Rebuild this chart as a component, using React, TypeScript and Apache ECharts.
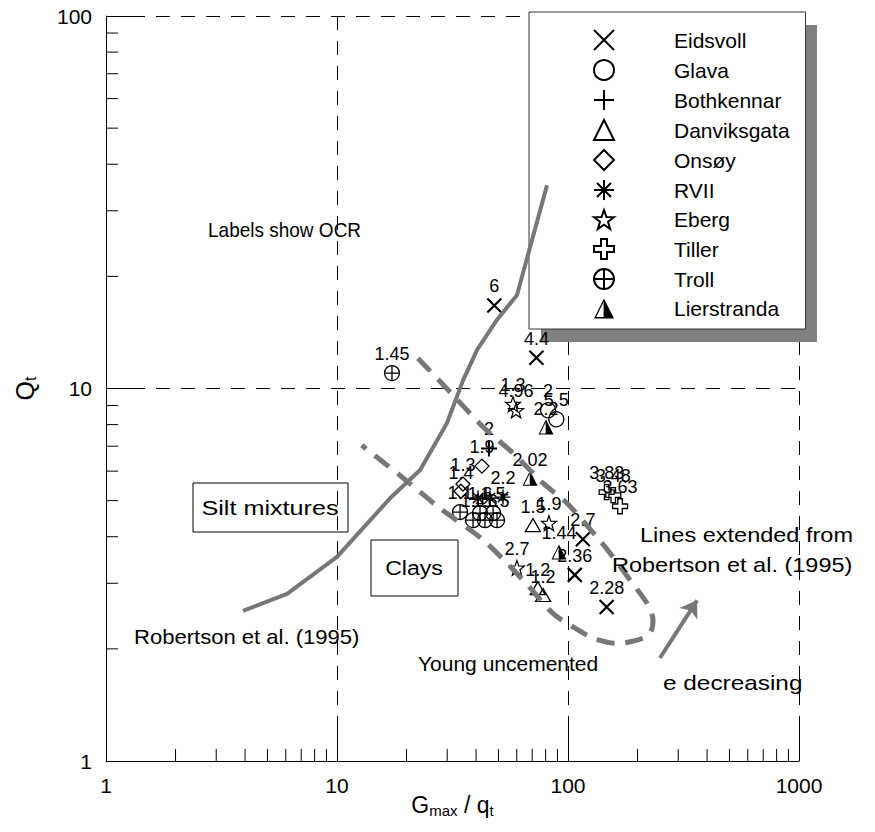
import React, { useEffect, useRef } from "react";
import * as echarts from "echarts";

// ---- Data (G_max/q_t, Q_t, OCR label) ----
const eidsvoll: [number, number, string][] = [
  [48, 16.7, "6"], [73, 12.1, "4.4"], [116, 3.94, "2.7"], [107, 3.16, "2.36"], [147, 2.59, "2.28"],
];
const glava: [number, number, string][] = [[82, 8.74, "2"], [89, 8.27, "5.5"]];
const bothkennar: [number, number, string][] = [[45.5, 6.9, "2"]];
const danviksgata: [number, number, string][] = [[70.5, 4.3, "1.5"], [74, 2.91, "1.2"], [78, 2.79, "1.2"]];
const onsoy: [number, number, string][] = [[42.4, 6.19, "1.9"], [35.1, 5.54, "1.3"], [34.4, 5.3, "1.4"]];
const rvii: [number, number, string][] = [[40.8, 5.08, ""], [45.9, 5.08, ""], [52.3, 5.11, "2.2"]];
const eberg: [number, number, string][] = [[57.8, 9.08, "1.3"], [59.6, 8.74, "4.96"], [82.7, 4.35, "1.9"], [60.1, 3.3, "2.7"]];
const tiller: [number, number, string][] = [[147, 5.27, "3.83"], [157, 5.17, "3.48"], [168, 4.83, "3.63"]];
const troll: [number, number, string][] = [
  [17.3, 11.0, "1.45"], [34.1, 4.66, "1.1"], [41.6, 4.63, "1.6"], [47.4, 4.63, "1.5"],
  [38.8, 4.43, "1.4"], [43.7, 4.43, "1.6"], [49.3, 4.43, "1.5"],
];
const lierstranda: [number, number, string][] = [[80.3, 7.88, "2.2"], [68.5, 5.74, "2.02"], [91.4, 3.64, "1.44"]];

// Robertson et al. (1995) boundary
const robertsonLine: [number, number][] = [
  [3.92, 2.53], [6.08, 2.81], [10, 3.53], [17.0, 5.08], [22.9, 6.04], [29.9, 8.07],
  [35.1, 10.5], [40.4, 12.7], [49.3, 15.3], [60.1, 17.8], [81.1, 35.1],
];
// Lines extended from Robertson (young uncemented zone)
const extendedLines: [number, number][] = [
  [22.4, 12.06], [32.4, 9.48], [42.9, 7.88], [57.8, 6.71], [78.0, 5.57], [99.0, 4.92],
  [133.5, 3.99], [156.6, 3.53], [185.5, 3.06], [219.8, 2.65], [233.3, 2.39], [226.5, 2.2],
  [199, 2.11], [163, 2.07], [128.3, 2.14], [105.1, 2.29], [86.1, 2.49], [63.9, 3.06],
  [42.9, 3.92], [27.9, 4.77], [18.7, 5.85], [12.8, 7.04],
];
const arrowLine: [number, number][] = [[250, 1.89], [362, 2.7]];

// axis ticks
const xMajorTicks = [1, 10, 100, 1000];
const minorMultipliers = [2, 3, 4, 5, 6, 7, 8, 9];
const xMinorTicks = [1, 10, 100].flatMap((d) => minorMultipliers.map((m) => m * d));
const yMinorTicks = [1, 10].flatMap((d) => minorMultipliers.map((m) => m * d));

// ---- Styles ----
const FONT = '"Liberation Sans", Arial, Helvetica, sans-serif';
const GRAY = "#777777";

const SYM_X = "path://M0,0L100,100M100,0L0,100";
const SYM_PLUS = "path://M50,0L50,100M0,50L100,50";
const SYM_AST = "path://M50,0L50,100M0,50L100,50M15,15L85,85M85,15L15,85";
const SYM_STAR =
  "path://M50,0L61.76,33.82L97.55,34.55L69.02,56.18L79.39,90.45L50,70L20.61,90.45L30.98,56.18L2.45,34.55L38.24,33.82Z";
const SYM_TILLER = "path://M35,0L65,0L65,35L100,35L100,65L65,65L65,100L35,100L35,65L0,65L0,35L35,35Z";
const SYM_TROLL = "path://M0,50A50,50,0,1,0,100,50A50,50,0,1,0,0,50ZM50,0L50,100M0,50L100,50";
const SYM_LIER = "path://M50,0L100,100L0,100ZM48,18L11,93L48,93Z";

const siteStyles = [
  { name: "Eidsvoll", data: eidsvoll, symbol: SYM_X, size: 14, bw: 2.2, fill: "transparent" },
  { name: "Glava", data: glava, symbol: "circle", size: 15, bw: 1.3, fill: "transparent" },
  { name: "Bothkennar", data: bothkennar, symbol: SYM_PLUS, size: 16, bw: 2, fill: "transparent" },
  { name: "Danviksgata", data: danviksgata, symbol: "triangle", size: [15, 13], bw: 1.3, fill: "transparent" },
  { name: "Onsøy", data: onsoy, symbol: "diamond", size: 14, bw: 1.3, fill: "transparent" },
  { name: "RVII", data: rvii, symbol: SYM_AST, size: 15, bw: 1.4, fill: "transparent" },
  { name: "Eberg", data: eberg, symbol: SYM_STAR, size: 15, bw: 1.2, fill: "transparent" },
  { name: "Tiller", data: tiller, symbol: SYM_TILLER, size: 15, bw: 1.3, fill: "transparent" },
  { name: "Troll", data: troll, symbol: SYM_TROLL, size: 15, bw: 1.3, fill: "transparent" },
  { name: "Lierstranda", data: lierstranda, symbol: SYM_LIER, size: 15, bw: 0, fill: "#000" },
];

const annotation = (text: string, x: number, y: number, size: number, sx: number, align = "left") => ({
  type: "text",
  x,
  y,
  scaleX: sx,
  z: 6,
  style: { text, fontSize: size, fontFamily: FONT, fill: "#000", align, verticalAlign: "middle" },
});

export default function App() {
  const ref = useRef<HTMLDivElement>(null);

  useEffect(() => {
    if (!ref.current) return;
    const chart = echarts.init(ref.current, null, { renderer: "svg" });

    const scatterSeries = siteStyles.map((s) => ({
      type: "scatter",
      name: s.name,
      data: s.data.map((p) => ({ value: [p[0], p[1]], name: p[2] })),
      symbol: s.symbol,
      symbolSize: s.size,
      itemStyle: { color: s.fill, borderColor: "#000", borderWidth: s.bw, opacity: 1 },
      label: {
        show: true,
        position: "top",
        distance: 2,
        formatter: (p: any) => p.name,
        fontSize: 18,
        fontFamily: FONT,
        color: "#000",
      },
      z: 3,
      silent: true,
    }));

    const tickLen = 12;
    const option: any = {
      animation: false,
      textStyle: { fontFamily: FONT },
      grid: { left: 106, right: 76, top: 16, bottom: 71, containLabel: false },
      xAxis: {
        type: "log",
        logBase: 10,
        min: 1,
        max: 1000,
        axisLine: { show: true, lineStyle: { color: "#000", width: 1 } },
        axisTick: { show: true, inside: true, length: 36, lineStyle: { color: "#000" } },
        splitLine: { show: true, lineStyle: { color: "#000", width: 1, type: [14, 11] } },
        axisLabel: {
          fontSize: 21,
          color: "#000",
          fontFamily: FONT,
          margin: 14,
          formatter: (v: number) => String(Math.round(v)),
          customValues: xMajorTicks,
        },
        name: "{a|G}{s|max}{a| / q}{s|t}",
        nameLocation: "middle",
        nameMoveOverlap: false,
        nameGap: 31,
        nameTextStyle: {
          color: "#000",
          fontFamily: FONT,
          rich: {
            a: { fontSize: 23, color: "#000", fontFamily: FONT },
            s: { fontSize: 15, color: "#000", fontFamily: FONT, padding: [11, 0, 0, 0] },
          },
        },
      },
      yAxis: {
        type: "log",
        logBase: 10,
        min: 1,
        max: 100,
        axisLine: { show: true, lineStyle: { color: "#000", width: 1 } },
        axisTick: { show: true, inside: true, length: 36, lineStyle: { color: "#000" } },
        splitLine: { show: true, lineStyle: { color: "#000", width: 1, type: [14, 11] } },
        axisLabel: {
          fontSize: 21,
          color: "#000",
          fontFamily: FONT,
          margin: 14,
          formatter: (v: number) => String(Math.round(v)),
        },
        name: "{q|Q}{t|t}",
        nameLocation: "middle",
        nameMoveOverlap: false,
        nameRotate: 90,
        nameGap: 68,
        nameTextStyle: {
          color: "#000",
          fontFamily: FONT,
          rich: {
            q: { fontSize: 25, color: "#000", fontFamily: FONT },
            t: { fontSize: 16, color: "#000", fontFamily: FONT, padding: [11, 0, 0, 0] },
          },
        },
      },
      legend: {
        show: true,
        orient: "vertical",
        left: 529,
        top: 12,
        padding: [17, 16, 10, 64],
        itemWidth: 20,
        itemHeight: 20,
        itemGap: 8,
        selectedMode: false,
        backgroundColor: "#fff",
        borderColor: "#333",
        borderWidth: 1,
        data: siteStyles.map((s) => s.name),
        textStyle: { fontSize: 21, color: "#000", fontFamily: FONT, lineHeight: 20, padding: [0, 0, 0, 55] },
        z: 4,
      },
      graphic: [
        { type: "rect", z: 1, shape: { x: 541, y: 25, width: 276, height: 317 }, style: { fill: "#808080" } },
        annotation("Labels show OCR", 208, 230, 20, 0.95),
        { type: "rect", shape: { x: 193, y: 483, width: 155, height: 49 }, style: { fill: "#fff", stroke: "#000", lineWidth: 1 } },
        annotation("Silt mixtures", 270, 508, 21, 1.2, "center"),
        { type: "rect", shape: { x: 371, y: 540, width: 87, height: 56 }, style: { fill: "#fff", stroke: "#000", lineWidth: 1 } },
        annotation("Clays", 414, 568, 21, 1.1, "center"),
        annotation("Robertson et al. (1995)", 134, 637, 21, 1.05),
        annotation("Young uncemented", 418, 663, 21, 1.0),
        annotation("Lines extended from", 640, 535, 21, 1.12),
        annotation("Robertson et al. (1995)", 612, 565, 21, 1.12),
        annotation("e decreasing", 663, 683, 21, 1.16),
      ],
      series: [
        {
          type: "custom",
          name: "xMinor",
          silent: true,
          clip: false,
          data: xMinorTicks.map((v) => [v, 1]),
          renderItem: (_p: any, api: any) => {
            const pt = api.coord([api.value(0), api.value(1)]);
            return {
              type: "line",
              shape: { x1: pt[0], y1: pt[1], x2: pt[0], y2: pt[1] - tickLen },
              style: { stroke: "#000", lineWidth: 1 },
            };
          },
        },
        {
          type: "custom",
          name: "yMinor",
          silent: true,
          clip: false,
          data: yMinorTicks.map((v) => [1, v]),
          renderItem: (_p: any, api: any) => {
            const pt = api.coord([api.value(0), api.value(1)]);
            return {
              type: "line",
              shape: { x1: pt[0], y1: pt[1], x2: pt[0] + tickLen, y2: pt[1] },
              style: { stroke: "#000", lineWidth: 1 },
            };
          },
        },
        ...scatterSeries,
        {
          type: "line",
          name: "Robertson",
          data: robertsonLine,
          showSymbol: false,
          symbol: "none",
          lineStyle: { color: GRAY, width: 4 },
          z: 10,
          silent: true,
        },
        {
          type: "line",
          name: "Extended",
          data: extendedLines,
          showSymbol: false,
          symbol: "none",
          smooth: 0.3,
          lineStyle: { color: GRAY, width: 5, type: [18, 11] },
          z: 5,
          silent: true,
        },
        {
          type: "lines",
          name: "Arrow",
          coordinateSystem: "cartesian2d",
          data: [{ coords: arrowLine }],
          symbol: ["none", "arrow"],
          symbolSize: 16,
          lineStyle: { color: GRAY, width: 4, opacity: 1 },
          z: 5,
          silent: true,
        },
      ],
    };

    chart.setOption(option);
    return () => chart.dispose();
  }, []);

  return <div ref={ref} style={{ position: "fixed", left: 0, top: 0, width: 875, height: 832, background: "#fff" }} />;
}
